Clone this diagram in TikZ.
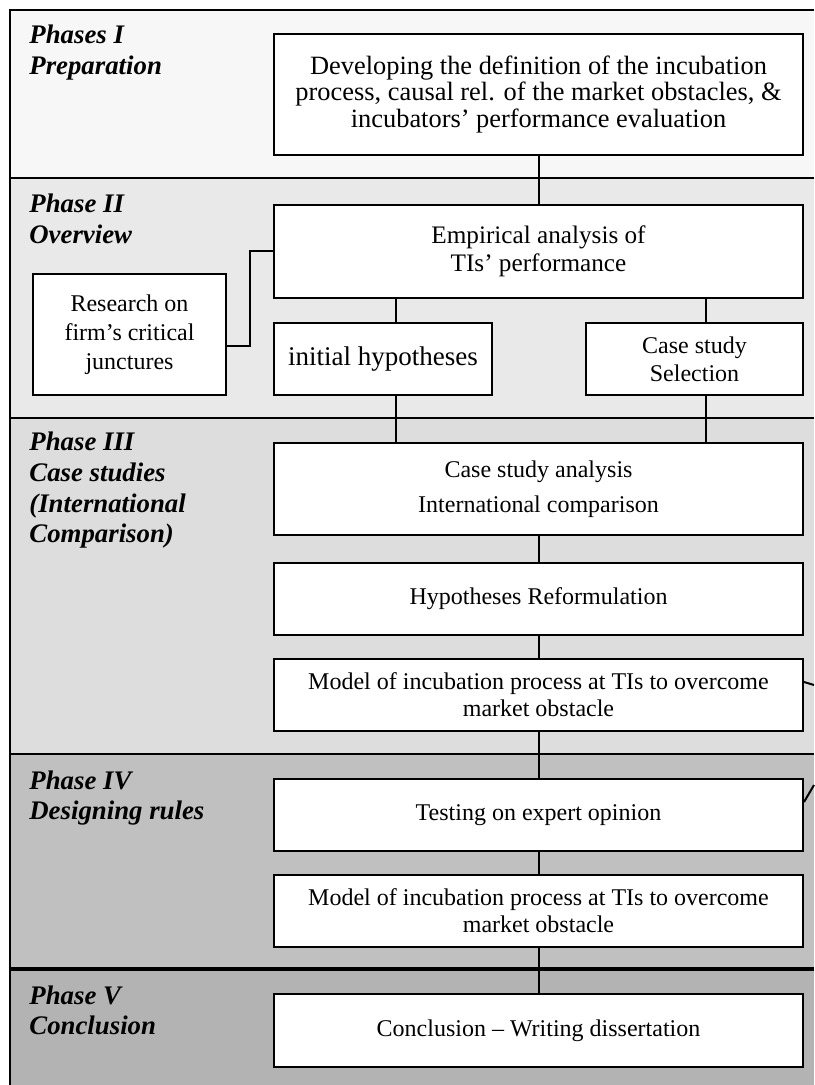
\documentclass[tikz,border=0pt]{standalone}
\usepackage{fontspec}
\setmainfont{Liberation Serif}
\usetikzlibrary{positioning}
\definecolor{bandI}{HTML}{F7F7F7}
\definecolor{bandII}{HTML}{E9E9E9}
\definecolor{bandIII}{HTML}{DDDDDD}
\definecolor{bandIV}{HTML}{C0C0C0}
\definecolor{bandV}{HTML}{B3B3B3}
\begin{document}
\begin{tikzpicture}[x=0.5pt,y=-0.5pt,
  box/.style={draw,line width=1pt,fill=white,align=center,inner sep=0pt,
    font=\fontsize{12}{13.5}\selectfont},
  widebox/.style={box,minimum width=264.5pt,minimum height=36pt},
  phase/.style={anchor=north west,align=left,inner sep=0pt,
    font=\fontsize{13.4}{15.3}\selectfont\bfseries\itshape},
  link/.style={line width=1pt}]
\useasboundingbox (0,0) rectangle (814,1085);

\fill[bandI] (10,10) rectangle (814,178);
\fill[bandII] (10,178) rectangle (814,418);
\fill[bandIII] (10,418) rectangle (814,754);
\fill[bandIV] (10,754) rectangle (814,969);
\fill[bandV] (10,969) rectangle (814,1085);
\draw[line width=1pt] (814,10) -- (10,10) -- (10,1085);
\draw[line width=1pt] (10,178) -- (814,178);
\draw[line width=1pt] (10,418) -- (814,418);
\draw[line width=1pt] (10,754) -- (814,754);
\draw[line width=2pt] (10,969) -- (814,969);

\node[phase] (pI) at (29,25) {Phases I\\Preparation};
\node[phase] (pII) at (29,194) {Phase II\\Overview};
\node[phase] (pIII) at (29,432) {Phase III\\Case studies\\(International\\Comparison)};
\node[phase] (pIV) at (29,770) {Phase IV\\Designing rules};
\node[phase] (pV) at (29,985) {Phase V\\Conclusion};

\node[widebox,minimum height=60.5pt,font=\fontsize{13.2}{13.3}\selectfont] (dev) at (538.5,94.5)
  {Developing the definition of the incubation\\process, causal rel. of the market obstacles, \&\\incubators’ performance evaluation};
\node[widebox,minimum height=46.5pt,font=\fontsize{12.6}{13.8}\selectfont] (emp) at (538.5,251.5)
  {Empirical analysis of\\TIs’ performance};
\node[box,minimum width=96.5pt,minimum height=60.5pt,font=\fontsize{12}{14.6}\selectfont] (res) at (129.5,334.5)
  {Research on\\firm’s critical\\junctures};
\node[box,minimum width=109pt,minimum height=36pt,font=\fontsize{13.5}{14}\selectfont] (hyp) at (383,359) {initial hypotheses};
\node[box,minimum width=108.5pt,minimum height=36pt,font=\fontsize{12}{14}\selectfont] (sel) at (694.5,359)
  {Case study\\Selection};
\node[widebox,minimum height=46pt] (ana) at (538.5,489)
  {Case study analysis\\[4pt]International comparison};
\node[widebox] (ref) at (538.5,599) {Hypotheses Reformulation};
\node[widebox] (modA) at (538.5,695)
  {Model of incubation process at TIs to overcome\\market obstacle};
\node[widebox] (test) at (538.5,815) {Testing on expert opinion};
\node[widebox] (modB) at (538.5,911)
  {Model of incubation process at TIs to overcome\\market obstacle};
\node[widebox,minimum height=36.5pt] (conc) at (538.5,1030.5) {Conclusion -- Writing dissertation};

\coordinate (hypx) at (396,0);
\coordinate (selx) at (706,0);
\coordinate (outA) at (814,685);
\coordinate (outB) at (814,785);

\draw[link] (dev) -- (emp);
\draw[link] (emp.south -| hypx) -- (hyp.north -| hypx);
\draw[link] (emp.south -| selx) -- (sel.north -| selx);
\draw[link] (hyp.south -| hypx) -- (ana.north -| hypx);
\draw[link] (sel.south -| selx) -- (ana.north -| selx);
\draw[link] (ana) -- (ref);
\draw[link] (ref) -- (modA);
\draw[link] (modA) -- (test);
\draw[link] (test) -- (modB);
\draw[link] (modB) -- (conc);
\draw[link] ([yshift=-5.75pt]res.east) -- ++(23,0) |- (emp.west);
\draw[link] ([yshift=6.5pt]modA.east) -- (outA);
\draw[link] ([yshift=6.5pt]test.east) -- (outB);
\end{tikzpicture}
\end{document}
